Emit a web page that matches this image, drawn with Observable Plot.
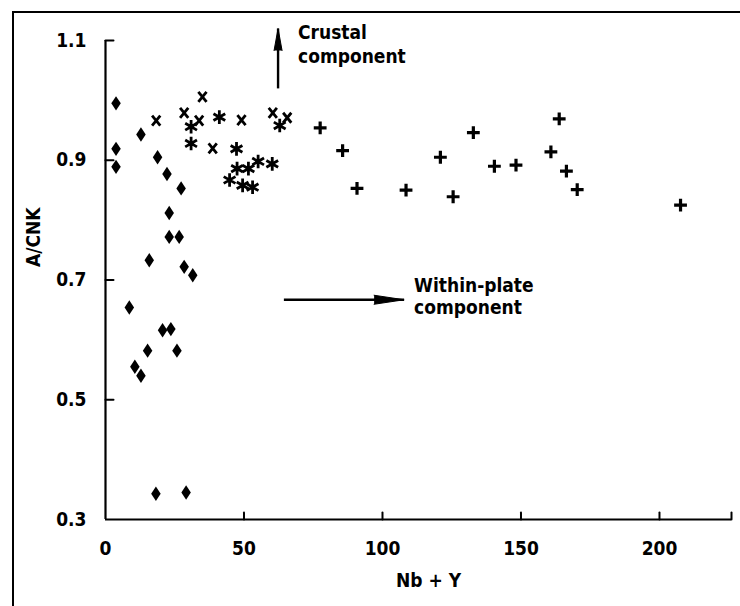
<!DOCTYPE html>
<html>
<head>
<meta charset="utf-8">
<script src="https://cdn.jsdelivr.net/npm/d3@7"></script>
<script src="https://cdn.jsdelivr.net/npm/@observablehq/plot@0.6"></script>
<style>
  body { margin: 0; background: #fff; }
  #wrap { position: relative; width: 740px; height: 606px; overflow: hidden; background: #fff; }
  #frame { position: absolute; left: 12px; top: 11px; right: -10px; bottom: -10px;
           border-top: 2.5px solid #000; border-left: 2.5px solid #000; pointer-events: none; }
  svg { display: block; }
</style>
</head>
<body>
<div id="wrap"><div id="frame"></div></div>
<script>
// ---- Data ----
const diamondX = [3.8, 12.8, 3.8, 3.8, 18.8, 22.2, 27.3, 23.0, 23.0, 26.6, 15.8, 28.4, 31.5, 8.6, 20.6, 23.6, 15.2, 25.8, 10.6, 12.8, 18.2, 29.1];
const diamondY = [0.995, 0.943, 0.919, 0.889, 0.905, 0.877, 0.853, 0.812, 0.772, 0.772, 0.733, 0.722, 0.708, 0.654, 0.616, 0.618, 0.582, 0.582, 0.555, 0.540, 0.343, 0.345];

const timesX = [18.3, 28.4, 33.8, 35.0, 49.1, 38.7, 60.4, 65.6];
const timesY = [0.966, 0.979, 0.966, 1.006, 0.967, 0.920, 0.979, 0.971];

const asterX = [30.9, 30.9, 41.1, 47.3, 62.9, 47.5, 51.6, 55.1, 60.2, 44.8, 49.5, 53.1];
const asterY = [0.956, 0.928, 0.972, 0.919, 0.958, 0.886, 0.886, 0.898, 0.894, 0.867, 0.858, 0.855];

const plusX = [77.5, 85.6, 90.8, 108.5, 120.9, 125.5, 132.8, 140.4, 148.2, 160.8, 163.8, 166.4, 170.3, 207.6];
const plusY = [0.954, 0.916, 0.853, 0.850, 0.905, 0.839, 0.946, 0.890, 0.892, 0.914, 0.969, 0.882, 0.851, 0.825];

const xTickLabels = [0, 50, 100, 150, 200];
const xTickMarks = [50, 100, 150, 200, 226];
const yTickLabels = [0.3, 0.5, 0.7, 0.9, 1.1];
const yTickMarks = [0.5, 0.7, 0.9, 1.1];
const xDomain = [0, 226];
const yDomain = [0.3, 1.1];

const xLabel = "Nb + Y";
const yLabel = "A/CNK";

const crustalLabel = ["Crustal\ncomponent"];
const crustalLabelX = [69.5];
const crustalLabelY = [1.095];
const crustalArrowX = [62.3];
const crustalArrowY1 = [1.02];
const crustalArrowY2 = [1.12];

const withinLabel = ["Within-plate\ncomponent"];
const withinLabelX = [111.4];
const withinLabelY = [0.673];
const withinArrowX1 = [64.4];
const withinArrowX2 = [107.8];
const withinArrowY = [0.667];

// ---- Symbols ----
const tallDiamond = { draw(ctx, size) { const r = Math.sqrt(size / Math.PI), w = r * 0.66;
  ctx.moveTo(0, -r); ctx.lineTo(w, 0); ctx.lineTo(0, r); ctx.lineTo(-w, 0); ctx.closePath(); } };
const timesSym = { draw(ctx, size) { const r = Math.sqrt(size / Math.PI), w = r * 0.82;
  ctx.moveTo(-w, -r); ctx.lineTo(w, r); ctx.moveTo(w, -r); ctx.lineTo(-w, r); } };
const asterSym = { draw(ctx, size) { const r = Math.sqrt(size / Math.PI);
  const c = Math.cos(Math.PI / 6) * r, s = Math.sin(Math.PI / 6) * r;
  ctx.moveTo(0, -r); ctx.lineTo(0, r);
  ctx.moveTo(-c, -s); ctx.lineTo(c, s);
  ctx.moveTo(-c, s); ctx.lineTo(c, -s); } };
const plusSym = { draw(ctx, size) { const r = Math.sqrt(size / Math.PI);
  ctx.moveTo(-r, 0); ctx.lineTo(r, 0); ctx.moveTo(0, -r); ctx.lineTo(0, r); } };
const tickLine = { draw(ctx, l) { ctx.moveTo(0, 0); ctx.lineTo(0, -l); } };

const idx = (a) => a.map((_, i) => i);
const FONT = "'DejaVu Sans Condensed', 'DejaVu Sans', sans-serif";

const chart = Plot.plot({
  width: 740,
  height: 606,
  marginLeft: 105,
  marginRight: 9,
  marginTop: 40,
  marginBottom: 87,
  style: { fontFamily: FONT, fontWeight: "bold", fontSize: "19px", color: "#000", background: "transparent", fontStretch: "condensed" },
  x: { domain: xDomain, type: "linear" },
  y: { domain: yDomain, type: "linear" },
  marks: [
    // axis lines
    Plot.ruleX([xDomain[0]], { stroke: "#000", strokeWidth: 2.2 }),
    Plot.ruleY([yDomain[0]], { stroke: "#000", strokeWidth: 2.2 }),
    // inward tick marks
    Plot.vector(xTickMarks, { x: d => d, frameAnchor: "bottom", length: 7, anchor: "start", shape: tickLine, stroke: "#000", strokeWidth: 2 }),
    Plot.vector(yTickMarks, { y: d => d, frameAnchor: "left", rotate: 90, length: 8, anchor: "start", shape: tickLine, stroke: "#000", strokeWidth: 2 }),
    // tick labels
    Plot.axisX({ ticks: xTickLabels, tickSize: 0, tickPadding: 22, label: null, fontSize: 19 }),
    Plot.axisY({ ticks: yTickLabels, tickSize: 0, tickPadding: 19, label: null, fontSize: 19, tickFormat: d3.format(".1f") }),
    // axis titles
    Plot.text([xLabel], { text: d => d, frameAnchor: "bottom", dy: 67, dx: 10, fontSize: 19 }),
    Plot.text([yLabel], { text: d => d, frameAnchor: "left", dx: -72, dy: -13, rotate: -90, fontSize: 19 }),
    // data
    Plot.dot(idx(diamondX), { x: i => diamondX[i], y: i => diamondY[i], symbol: tallDiamond, r: 7.2, fill: "#000", stroke: "none" }),
    Plot.dot(idx(timesX), { x: i => timesX[i], y: i => timesY[i], symbol: timesSym, r: 5, fill: "none", stroke: "#000", strokeWidth: 2.8 }),
    Plot.dot(idx(asterX), { x: i => asterX[i], y: i => asterY[i], symbol: asterSym, r: 6.8, fill: "none", stroke: "#000", strokeWidth: 2.8 }),
    Plot.dot(idx(plusX), { x: i => plusX[i], y: i => plusY[i], symbol: plusSym, r: 6.4, fill: "none", stroke: "#000", strokeWidth: 3.2 }),
    // annotations
    Plot.link(idx(crustalArrowX), { x1: i => crustalArrowX[i], x2: i => crustalArrowX[i], y1: i => crustalArrowY1[i], y2: i => crustalArrowY2[i], stroke: "#000", strokeWidth: 2.4 }),
    Plot.vector(idx(crustalArrowX), { x: i => crustalArrowX[i], y: i => crustalArrowY2[i], anchor: "end", length: 22, r: 4, shape: "spike", fill: "#000", stroke: "#000", strokeWidth: 1 }),
    Plot.link(idx(withinArrowX1), { x1: i => withinArrowX1[i], x2: i => withinArrowX2[i], y1: i => withinArrowY[i], y2: i => withinArrowY[i], stroke: "#000", strokeWidth: 2.4 }),
    Plot.vector(idx(withinArrowX1), { x: i => withinArrowX2[i], y: i => withinArrowY[i], anchor: "end", rotate: 90, length: 30, r: 4.5, shape: "spike", fill: "#000", stroke: "#000", strokeWidth: 1 }),
    Plot.text(idx(crustalLabel), { x: i => crustalLabelX[i], y: i => crustalLabelY[i], text: i => crustalLabel[i], textAnchor: "start", lineHeight: 1.26, fontSize: 19 }),
    Plot.text(idx(withinLabel), { x: i => withinLabelX[i], y: i => withinLabelY[i], text: i => withinLabel[i], textAnchor: "start", lineHeight: 1.16, fontSize: 19 })
  ]
});
document.getElementById("wrap").appendChild(chart);
</script>
</body>
</html>
